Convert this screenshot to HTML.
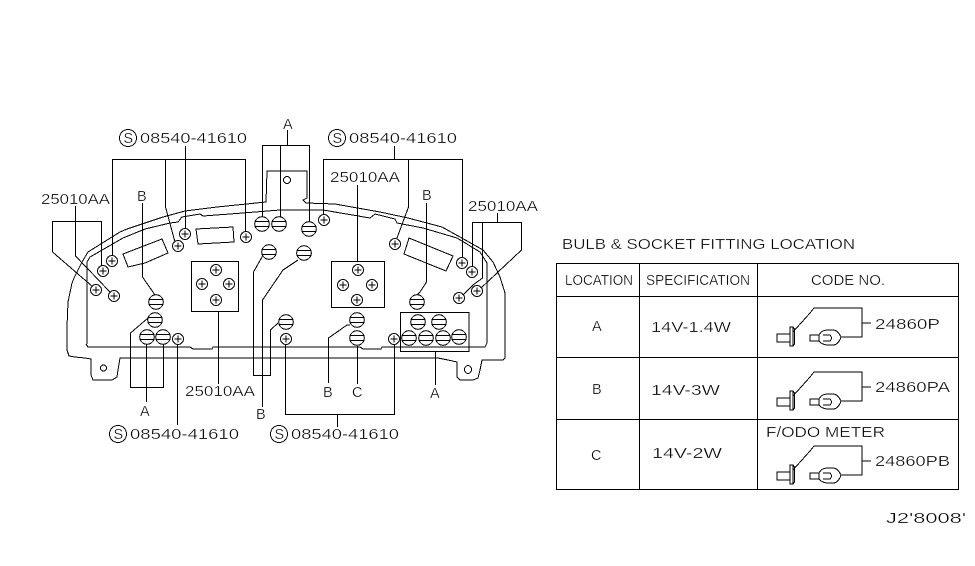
<!DOCTYPE html>
<html><head><meta charset="utf-8"><style>
html,body{margin:0;padding:0;background:#fff}
svg{display:block}
text{font-family:"Liberation Sans",sans-serif;font-size:14.500px;fill:#000;stroke:#fff;stroke-width:.3px;paint-order:fill stroke}
.l{fill:none;stroke:#000;stroke-width:1;shape-rendering:crispEdges}
</style></head><body>
<svg width="975" height="566" viewBox="0 0 975 566" xmlns="http://www.w3.org/2000/svg">
<defs>
<g id="b" class="l"><circle r="7.3" fill="#fff"/><path d="M-7 -2.500H7M-7 2.500H7"/></g>
<g id="s" class="l"><circle r="5.500" fill="#fff"/><path d="M-3.500 0H3.500M0 -3.500V3.500"/></g>
<g id="i" class="l"><path d="M793 332L810 313L814 308H862V337H841M862 323H871"/><path d="M777 334H790V342H777ZM790 327H793V346H790ZM793 327L794.500 329V344L793 346"/><path d="M819 335H810V341H819M819 335C821 331 824 330 829 330H833C838 330 840 335 841 337C840 340 838 345 833 345H829C824 345 821 344 819 341M819 335V341M823 335H830Q833 338 830 341H823"/></g>
</defs>
<g class="l">
<path d="M74 278L82 262L88 252L120 232L127 229L163 217L185 211L217 207L266 202L267 171H307V198L303 200L306 203L335 204L380 212L408 218L442 227L460 237L483 250L493 262L500 277L505 293V358L503 360H482L480 370L478 378L473 380H460L457 377V362L448 360L438 358H120L118 370L117 377L112 380H93L91 375V359L85 358L75 357L69 356L67 350V327L68 302L72 283L74 278"/>
<path d="M87 344V262L90 257L123 238L145 229L170 223L178 222L182 217L200 214L203 216L243 213L280 210H323L370 218L375 214L395 219L397 223L423 228L457 238L480 252L487 263V343L485 347H382L381 349H363L360 347H213L212 349H193L190 347H88L86 344"/>
<circle cx="103.500" cy="368" r="3"/><ellipse cx="468" cy="369.500" rx="3.500" ry="4"/><ellipse cx="287" cy="180" rx="3.500" ry="3.500"/>
<path d="M123 254L162 239L168 253L145 263L128 267Z"/>
<path d="M196 229L233 227L234 242L198 244Z"/>
<path d="M409 238L453 256L446 271L404 254Z"/>
<rect x="191.500" y="261.500" width="47" height="50"/>
<rect x="331.500" y="261.500" width="53" height="46"/>
<rect x="400.500" y="312.500" width="68.500" height="39"/>
<path d="M112.500 257V159.500H245.500V232M165.500 159.500V207L175 242M185.500 146V228"/>
<path d="M75.500 206V256L110 292M52.500 252V221.500H101.500V266M52.500 252L93 287"/>
<path d="M142.500 203V277L155 295"/>
<path d="M287.500 130V145.500M262.500 217V145.500H309.500V222M280.500 145.500V217"/>
<path d="M394.500 146V159.500M323.500 214V159.500H462.500V257M408.500 159.500V207L397 238"/>
<path d="M357.500 185V261"/>
<path d="M426.500 203V282L420 292L417 295"/>
<path d="M497.500 213V222.500M472.500 267V222.500H521.500V250L481 288M482.500 222.500V278L473 285L463 295"/>
<path d="M269 253L262 257L253.500 272V375.500H270.500V330L278 323"/>
<path d="M298 260L283 270L262.500 300V407"/>
<path d="M148 318L130.500 333V387.500H163.500V343M146.500 344V402M177.500 344V425"/>
<path d="M218.500 311V384"/>
<path d="M285.500 344V414.500H394.500V344M337.500 414.500V427"/>
<path d="M350 325L347 325L328.500 338V383M357.500 346V384"/>
<path d="M435.500 351V385"/>
<rect x="556.500" y="263.500" width="402" height="226"/>
<path d="M639.500 263.500V489.500M757.500 263.500V489.500M556.500 296.500H958.500M556.500 357.500H958.500M556.500 419.500H958.500"/>
<circle cx="128" cy="138" r="8.500"/>
<circle cx="337" cy="138" r="8.500"/>
<circle cx="118" cy="434" r="8.500"/>
<circle cx="279" cy="434" r="8.500"/>
</g>
<use href="#b" x="262" y="224"/><use href="#b" x="279" y="224"/><use href="#b" x="309" y="229"/>
<use href="#b" x="269" y="252"/><use href="#b" x="304" y="253"/>
<use href="#b" x="156" y="302"/><use href="#b" x="155" y="320"/><use href="#b" x="147" y="337"/><use href="#b" x="163" y="337"/>
<use href="#b" x="286" y="322"/><use href="#b" x="357" y="320"/><use href="#b" x="357" y="338"/>
<use href="#b" x="417" y="302"/><use href="#b" x="418" y="322"/><use href="#b" x="439" y="322"/>
<use href="#b" x="409" y="338"/><use href="#b" x="426" y="338"/><use href="#b" x="443" y="338"/><use href="#b" x="459" y="337"/>
<use href="#s" x="112" y="261"/><use href="#s" x="178" y="246"/><use href="#s" x="185" y="234"/><use href="#s" x="246" y="237"/>
<use href="#s" x="103" y="271"/><use href="#s" x="96" y="290"/><use href="#s" x="114" y="296"/>
<use href="#s" x="324" y="220"/><use href="#s" x="395" y="244"/><use href="#s" x="462" y="263"/><use href="#s" x="472" y="272"/>
<use href="#s" x="459" y="298"/><use href="#s" x="477" y="291"/>
<use href="#s" x="178" y="339"/><use href="#s" x="286" y="339"/><use href="#s" x="394" y="339"/>
<use href="#s" x="216" y="270"/><use href="#s" x="202" y="284"/><use href="#s" x="229" y="284"/><use href="#s" x="216" y="300"/>
<use href="#s" x="358" y="270"/><use href="#s" x="343" y="285"/><use href="#s" x="372" y="285"/><use href="#s" x="357" y="300"/>
<use href="#i"/><use href="#i" y="64"/><use href="#i" y="138"/>
<text x="123.500" y="143">S</text><text x="332.500" y="143">S</text><text x="113.500" y="439">S</text><text x="274.500" y="439">S</text>
<text x="140" y="143" textLength="107" lengthAdjust="spacingAndGlyphs">08540-41610</text>
<text x="349" y="143" textLength="108" lengthAdjust="spacingAndGlyphs">08540-41610</text>
<text x="130" y="439" textLength="109" lengthAdjust="spacingAndGlyphs">08540-41610</text>
<text x="291" y="439" textLength="108" lengthAdjust="spacingAndGlyphs">08540-41610</text>
<text x="41" y="204" textLength="69" lengthAdjust="spacingAndGlyphs">25010AA</text>
<text x="330" y="182" textLength="70" lengthAdjust="spacingAndGlyphs">25010AA</text>
<text x="468" y="211" textLength="70" lengthAdjust="spacingAndGlyphs">25010AA</text>
<text x="185" y="396" textLength="70" lengthAdjust="spacingAndGlyphs">25010AA</text>
<text x="283" y="129">A</text><text x="137" y="201">B</text><text x="422" y="200">B</text>
<text x="140" y="416">A</text><text x="256" y="419">B</text><text x="323" y="397">B</text><text x="352" y="397">C</text><text x="430" y="398">A</text>
<text x="562" y="249" textLength="293" lengthAdjust="spacingAndGlyphs">BULB &amp; SOCKET FITTING LOCATION</text>
<text x="565" y="285" textLength="68" lengthAdjust="spacingAndGlyphs">LOCATION</text>
<text x="646" y="285" textLength="104" lengthAdjust="spacingAndGlyphs">SPECIFICATION</text>
<text x="811" y="285" textLength="74" lengthAdjust="spacingAndGlyphs">CODE NO.</text>
<text x="592" y="331">A</text><text x="592" y="394">B</text><text x="591" y="460">C</text>
<text x="651" y="332" textLength="80" lengthAdjust="spacingAndGlyphs">14V-1.4W</text>
<text x="651" y="395" textLength="69" lengthAdjust="spacingAndGlyphs">14V-3W</text>
<text x="652" y="458" textLength="70" lengthAdjust="spacingAndGlyphs">14V-2W</text>
<text x="766" y="437" textLength="119" lengthAdjust="spacingAndGlyphs">F/ODO METER</text>
<text x="875" y="329" textLength="65" lengthAdjust="spacingAndGlyphs">24860P</text>
<text x="875" y="392" textLength="75" lengthAdjust="spacingAndGlyphs">24860PA</text>
<text x="875" y="466" textLength="75" lengthAdjust="spacingAndGlyphs">24860PB</text>
<text x="886" y="523" textLength="80" lengthAdjust="spacingAndGlyphs">J2'8008'</text>
</svg>
</body></html>
